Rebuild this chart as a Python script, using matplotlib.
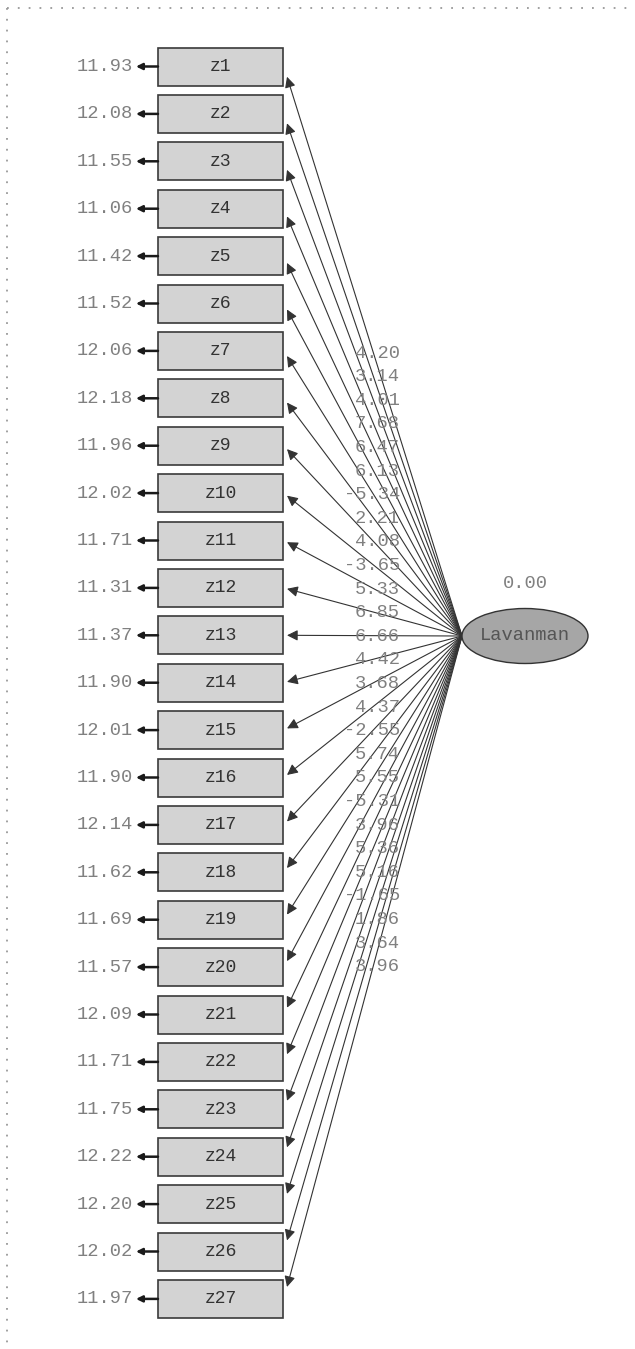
import matplotlib
matplotlib.use("Agg")
import matplotlib.pyplot as plt
from matplotlib.patches import Rectangle, Ellipse, FancyArrowPatch

# ---- data ----
indicators = [f"z{i}" for i in range(1, 28)]
error_vars = [11.93, 12.08, 11.55, 11.06, 11.42, 11.52, 12.06, 12.18, 11.96,
              12.02, 11.71, 11.31, 11.37, 11.90, 12.01, 11.90, 12.14, 11.62,
              11.69, 11.57, 12.09, 11.71, 11.75, 12.22, 12.20, 12.02, 11.97]
loadings = [4.20, 3.14, 4.01, 7.68, 6.47, 6.13, -5.34, 2.21, 4.08, -3.65,
            5.33, 6.85, 6.66, 4.42, 3.68, 4.37, -2.55, 5.74, 5.55, -5.31,
            3.96, 5.36, 5.16, -1.65, 1.86, 3.64, 3.96]
latent_name = "Lavanman"
latent_var = 0.00

# ---- layout ----
W, H = 635, 1349
fig = plt.figure(figsize=(W / 100, H / 100), dpi=100)
ax = fig.add_axes([0, 0, 1, 1])
ax.set_xlim(0, W)
ax.set_ylim(H, 0)
ax.axis("off")

mono = ["Liberation Mono", "DejaVu Sans Mono"]
num_col = "#808080"
num_fs = 13.5

box_l, box_r = 158, 283
box_h = 38
y0, dy = 66.5, 47.4
lat_x, lat_y = 525, 636
lat_w, lat_h = 126, 55
src_x = lat_x - lat_w / 2
lab_y0, lab_dy = 353, 23.6

# dotted frame
ax.plot([7, W], [8, 8], ls=(0, (1, 5)), color="#999999", lw=1.3)
ax.plot([7, 7], [8, H], ls=(0, (1, 5)), color="#999999", lw=1.3)

n = len(indicators)
for i, (name, ev, ld) in enumerate(zip(indicators, error_vars, loadings)):
    yc = y0 + i * dy
    ax.add_patch(Rectangle((box_l, yc - box_h / 2), box_r - box_l, box_h,
                           facecolor="#d3d3d3", edgecolor="#3a3a3a", lw=1.2, zorder=3))
    ax.text((box_l + box_r) / 2, yc, name, ha="center", va="center",
            fontsize=13, family=mono, color="#333333", zorder=4)
    # error variance arrow
    ax.add_patch(FancyArrowPatch((box_l, yc), (136, yc), arrowstyle="-|>",
                                 mutation_scale=9, lw=1.8, color="#1a1a1a",
                                 shrinkA=0, shrinkB=0, zorder=3))
    ax.text(133, yc, f"{ev:.2f}", ha="right", va="center", fontsize=num_fs,
            family=mono, color=num_col)
    # loading path
    ty = yc + 0.018 * (lat_y - yc)
    ax.add_patch(FancyArrowPatch((src_x, lat_y), (box_r + 4, ty), arrowstyle="-|>",
                                 mutation_scale=16, lw=0.8, color="#333333",
                                 shrinkA=0, shrinkB=0, zorder=2))
    ax.text(400, lab_y0 + i * lab_dy, f"{ld:.2f}", ha="right", va="center",
            fontsize=num_fs, family=mono, color=num_col, zorder=5)

ax.add_patch(Ellipse((lat_x, lat_y), lat_w, lat_h, facecolor="#a6a6a6",
                     edgecolor="#333333", lw=1.0, zorder=3))
ax.text(lat_x, lat_y, latent_name, ha="center", va="center", fontsize=13.5,
        family=mono, color="#555555", zorder=4)
ax.text(lat_x, 583, f"{latent_var:.2f}", ha="center", va="center",
        fontsize=num_fs, family=mono, color=num_col)

fig.savefig("out.png", dpi=100)
